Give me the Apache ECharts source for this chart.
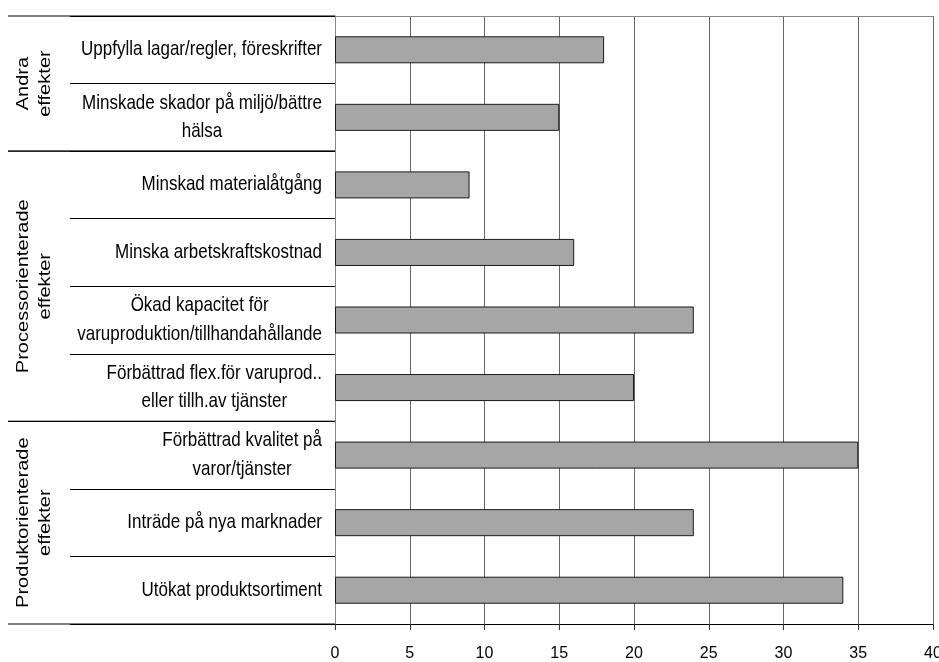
<!DOCTYPE html>
<html>
<head>
<meta charset="utf-8">
<script src="https://cdn.jsdelivr.net/npm/echarts@6/dist/echarts.min.js"></script>
<style>html,body{margin:0;padding:0;background:#fff}#c{width:939px;height:662px}</style>
</head>
<body>
<div id="c"></div>
<script>
var categories = [
  'Uppfylla lagar/regler, föreskrifter',
  'Minskade skador på miljö/bättre\nhälsa',
  'Minskad materialåtgång',
  'Minska arbetskraftskostnad',
  'Ökad kapacitet för\nvaruproduktion/tillhandahållande',
  'Förbättrad flex.för varuprod..\neller tillh.av tjänster',
  'Förbättrad kvalitet på\nvaror/tjänster',
  'Inträde på nya marknader',
  'Utökat produktsortiment'
];
var values = [18, 15, 9, 16, 24, 20, 35, 24, 34];
var groupNames = ['Andra\neffekter', 'Processorienterade\neffekter', 'Produktorienterade\neffekter'];
var groupStart = [0, 2, 6];
var groupCount = [2, 4, 3];
var xTicks = [0, 40, 5];

var FONT = '"Liberation Sans", Arial, sans-serif';
var STRETCH = 1.18;
var chart = echarts.init(document.getElementById('c'), null, {renderer: 'canvas'});

var groupData = groupNames.map(function (n, i) { return [0, groupStart[i], groupCount[i]]; });
var labelData = categories.map(function (c, i) { return [0, i]; });

var option = {
  animation: false,
  backgroundColor: '#fff',
  grid: {left: 335, right: 6, top: 16, bottom: 38, containLabel: false, outerBoundsMode: 'none'},
  xAxis: [{
    type: 'value', min: xTicks[0], max: xTicks[1], interval: xTicks[2],
    axisLine: {show: true, lineStyle: {color: '#000', width: 1}},
    axisTick: {show: true, length: 6, lineStyle: {color: '#333'}},
    axisLabel: {margin: 22, color: '#000', fontFamily: FONT, fontSize: 16},
    splitLine: {show: true, lineStyle: {color: '#666', width: 1}}
  }, {
    type: 'value', position: 'top', min: xTicks[0], max: xTicks[1], interval: xTicks[2],
    axisLine: {show: true, lineStyle: {color: '#888', width: 1}},
    axisTick: {show: false}, axisLabel: {show: false}, splitLine: {show: false}
  }],
  yAxis: {
    type: 'category', inverse: true, data: categories,
    axisLine: {show: true, lineStyle: {color: '#888', width: 1}},
    axisTick: {show: true, length: 265, interval: 0, lineStyle: {color: '#000'}},
    axisLabel: {show: false},
    splitLine: {show: false}
  },
  series: [
    {
      type: 'bar', data: values, barCategoryGap: '60%',
      itemStyle: {color: '#a6a6a6', borderColor: '#1a1a1a', borderWidth: 1},
      silent: true
    },
    {
      type: 'custom', data: labelData, silent: true, clip: false, z: 10,
      encode: {x: 0, y: 1},
      renderItem: function (params, api) {
        var p = api.coord([0, api.value(1)]);
        var txt = categories[params.dataIndex].split('\n').map(function (l) { return '{c|' + l + '}'; }).join('\n');
        return {
          type: 'text', x: p[0] - 13, y: p[1], scaleY: STRETCH,
          style: {
            text: txt, align: 'right', verticalAlign: 'middle',
            rich: {c: {align: 'center', fontFamily: FONT, fontSize: 17, lineHeight: 24, fill: '#000'}},
            fill: '#000'
          }
        };
      }
    },
    {
      type: 'custom', data: groupData, silent: true, clip: false, z: 10,
      encode: {x: 0, y: 1},
      renderItem: function (params, api) {
        var s = api.value(1), n = api.value(2);
        var h = api.size([0, 1])[1];
        var ax = api.coord([0, s])[0];
        var yTop = api.coord([0, s])[1] - h / 2;
        var yBot = api.coord([0, s + n - 1])[1] + h / 2;
        var cy = (yTop + yBot) / 2;
        return {
          type: 'group',
          children: [
            {type: 'line', shape: {x1: ax - 327, y1: yTop, x2: ax, y2: yTop}, style: {stroke: '#000', lineWidth: 1}},
            {type: 'line', shape: {x1: ax - 327, y1: yBot, x2: ax, y2: yBot}, style: {stroke: '#000', lineWidth: 1}},
            {type: 'text', x: ax - 301, y: cy, rotation: Math.PI / 2, scaleX: STRETCH,
              style: {text: groupNames[params.dataIndex], align: 'center', verticalAlign: 'middle',
                font: '17px ' + FONT, lineHeight: 22, fill: '#000'}}
          ]
        };
      }
    }
  ]
};
chart.setOption(option);
</script>
</body>
</html>
